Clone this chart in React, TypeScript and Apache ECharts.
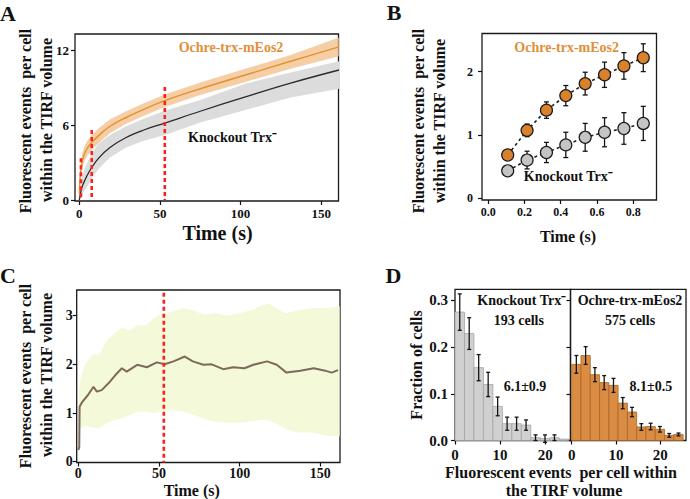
import { useEffect, useRef } from "react";
import * as echarts from "echarts";

const SERIF = '"Liberation Serif", "Times New Roman", serif';
const OCHRE = "#e1922f";
const OCHRE_TEXT = "#df8f3a";

// Panel A: cumulative fluorescent events per cell (mean with confidence band)
const aTime = [0, 0.5, 1, 2, 3.5, 5, 7.7, 12, 19, 29, 40, 53, 75, 103, 131, 161];
const aOchre = [0.5, 1.8, 2.5, 3.2, 3.8, 4.15, 4.6, 5.15, 5.9, 6.6, 7.25, 7.95, 8.9, 10.0, 11.1, 12.25];
const aOchreHigh = [0.8, 2.3, 3.0, 3.8, 4.4, 4.75, 5.2, 5.75, 6.45, 7.1, 7.75, 8.45, 9.4, 10.5, 11.6, 13.0];
const aOchreLow = [0.3, 1.3, 2.0, 2.6, 3.2, 3.55, 4.0, 4.55, 5.35, 6.1, 6.75, 7.45, 8.4, 9.45, 10.5, 11.5];
const aKnock = [0, 0.35, 0.7, 1.15, 1.6, 2.0, 2.6, 3.35, 4.2, 5.0, 5.6, 6.15, 7.1, 8.25, 9.35, 10.4];
const aKnockHigh = [0.1, 0.8, 1.3, 2.0, 2.6, 3.0, 3.75, 4.5, 5.2, 5.9, 6.5, 7.15, 8.0, 9.3, 10.2, 11.1];
const aKnockLow = [0, 0, 0.2, 0.5, 0.8, 1.1, 1.75, 2.5, 3.4, 4.2, 4.75, 5.2, 6.2, 7.2, 8.2, 8.9];
const aMarkTime = [1, 7.7, 53];
const aMarkTop = [3.35, 5.6, 9.05];
const aXTicks = [0, 50, 100, 150];
const aYTicks = [0, 6, 12];

// Panel B: first second of acquisition, mean ± error per frame
const bTime = [0.107, 0.214, 0.321, 0.428, 0.535, 0.642, 0.749, 0.856];
const bOchre = [0.68, 1.07, 1.39, 1.62, 1.81, 1.95, 2.09, 2.22];
const bOchreErr = [0.04, 0.1, 0.13, 0.16, 0.18, 0.2, 0.21, 0.22];
const bKnock = [0.43, 0.6, 0.72, 0.84, 0.96, 1.04, 1.1, 1.18];
const bKnockErr = [0.08, 0.14, 0.16, 0.2, 0.22, 0.23, 0.25, 0.27];
const bXTicks = [0, 0.2, 0.4, 0.6, 0.8];
const bYTicks = [0, 1, 2];

// Panel C: difference between strains over time
const cTime = [0, 0.6, 0.8, 2.5, 6, 9.4, 11.5, 14.5, 18.7, 23, 27, 30, 36.5, 42.5, 48.7, 53.5, 59, 66, 71, 77.5, 82.7, 89.8, 96, 103, 108.5, 117, 123, 129, 137.6, 146, 153, 157, 161];
const cMean = [0.24, 0.3, 1.13, 1.23, 1.37, 1.54, 1.44, 1.47, 1.61, 1.78, 1.92, 1.85, 1.99, 1.94, 2.04, 2.0, 2.06, 2.16, 2.06, 1.99, 2.0, 1.9, 1.94, 1.92, 1.99, 2.06, 1.99, 1.83, 1.87, 1.92, 1.87, 1.83, 1.88];
const cBandTime = [0, 0.5, 2, 5, 9, 13, 18, 23, 27, 32, 37, 42, 47, 50, 55, 60, 65, 70, 78, 85, 92, 100, 108, 114, 118, 123, 128, 135, 145, 155, 162];
const cUpper = [0.3, 1.5, 1.8, 2.05, 2.2, 2.2, 2.5, 2.65, 2.75, 2.7, 2.8, 2.8, 2.95, 3.02, 3.05, 3.1, 3.15, 3.12, 3.02, 3.05, 3.0, 3.05, 3.12, 3.22, 3.25, 3.15, 3.05, 3.1, 3.15, 3.15, 3.2];
const cLower = [0.15, 0.7, 0.71, 0.74, 0.7, 0.68, 0.8, 0.86, 0.9, 0.96, 1.03, 1.03, 1.0, 1.02, 1.05, 1.05, 1.03, 0.98, 0.88, 0.82, 0.8, 0.8, 0.83, 0.86, 0.85, 0.78, 0.68, 0.6, 0.6, 0.53, 0.52];
const cMarkTime = [53];
const cMarkTop = [3.47];
const cXTicks = [0, 50, 100, 150];
const cYTicks = [0, 1, 2, 3];

// Panel D: histograms of events per cell
const histEdges = [0, 2.1, 4.2, 6.3, 8.4, 10.5, 12.6, 14.7, 16.8, 18.9, 21.0, 23.1, 25.2];
const dKnock = [0.275, 0.229, 0.156, 0.12, 0.073, 0.036, 0.036, 0.033, 0.006, 0.004, 0.006, 0.003];
const dKnockErr = [0.039, 0.034, 0.028, 0.026, 0.02, 0.014, 0.014, 0.011, 0.006, 0.008, 0.006, 0];
const dOchre = [0.163, 0.182, 0.141, 0.124, 0.118, 0.08, 0.061, 0.029, 0.03, 0.024, 0.011, 0.013];
const dOchreErr = [0.019, 0.019, 0.015, 0.015, 0.015, 0.012, 0.01, 0.007, 0.007, 0.006, 0.004, 0.003];
const dXTicks = [0, 10, 20];
const dYTicks = [0, 0.1, 0.2, 0.3];

type AxisOpts = {
  ticks: number[];
  labels?: boolean;
  fontSize?: number;
  margin?: number;
  fmt?: (v: number) => string;
};

function axis(gridIndex: number, min: number, max: number, o: AxisOpts) {
  return {
    type: "value",
    gridIndex,
    min,
    max,
    axisLine: { show: false, onZero: false },
    axisTick: {
      show: true,
      customValues: o.ticks,
      length: 4,
      lineStyle: { color: "#111", width: 1.2 },
    },
    axisLabel: {
      show: o.labels !== false,
      customValues: o.ticks,
      formatter: o.fmt ? (v: number) => o.fmt!(v) : (v: number) => String(v),
      fontFamily: SERIF,
      fontWeight: "bold",
      fontSize: o.fontSize ?? 13,
      color: "#111",
      margin: o.margin ?? 6,
    },
    splitLine: { show: false },
  };
}

function band(axisIndex: number, xs: number[], hi: number[], lo: number[], fill: string, z: number) {
  return {
    type: "custom",
    xAxisIndex: axisIndex,
    yAxisIndex: axisIndex,
    z,
    silent: true,
    data: [[xs[0], lo[0]]],
    renderItem: (_p: any, api: any) => {
      const upper = xs.map((x, i) => api.coord([x, hi[i]]));
      const lower = xs.map((x, i) => api.coord([x, lo[i]])).reverse();
      return {
        type: "polygon",
        shape: { points: upper.concat(lower) },
        style: { fill, stroke: "none" },
      };
    },
  };
}

function line(axisIndex: number, xs: number[], ys: number[], color: string, width: number, smooth: boolean | number, z: number, dashed = false) {
  return {
    type: "line",
    xAxisIndex: axisIndex,
    yAxisIndex: axisIndex,
    z,
    data: xs.map((x, i) => [x, ys[i]]),
    showSymbol: false,
    symbol: "none",
    smooth,
    lineStyle: { color, width, type: dashed ? [3, 3] : "solid" },
    silent: true,
  };
}

function redMarks(axisIndex: number, xs: number[], tops: number[], bottom: number) {
  return {
    type: "custom",
    xAxisIndex: axisIndex,
    yAxisIndex: axisIndex,
    z: 8,
    silent: true,
    data: xs.map((x, i) => [x, tops[i]]),
    renderItem: (_p: any, api: any) => {
      const t = api.coord([api.value(0), api.value(1)]);
      const b = api.coord([api.value(0), bottom]);
      return {
        type: "line",
        shape: { x1: t[0], y1: t[1], x2: b[0], y2: b[1] },
        style: { stroke: "#ff1f1f", lineWidth: 2.6, lineDash: [4, 3] },
      };
    },
  };
}

function errorBars(axisIndex: number, xs: number[], ys: number[], errs: number[], cap: number, z: number) {
  return {
    type: "custom",
    xAxisIndex: axisIndex,
    yAxisIndex: axisIndex,
    z,
    silent: true,
    data: xs.map((x, i) => [x, ys[i], errs[i]]),
    renderItem: (_p: any, api: any) => {
      const x = api.value(0);
      const y = api.value(1);
      const e = api.value(2);
      if (!e) return { type: "group", children: [] };
      const top = api.coord([x, y + e]);
      const bot = api.coord([x, y - e]);
      const st = { stroke: "#151515", lineWidth: 1.3 };
      return {
        type: "group",
        children: [
          { type: "line", shape: { x1: top[0], y1: top[1], x2: bot[0], y2: bot[1] }, style: st },
          { type: "line", shape: { x1: top[0] - cap, y1: top[1], x2: top[0] + cap, y2: top[1] }, style: st },
          { type: "line", shape: { x1: bot[0] - cap, y1: bot[1], x2: bot[0] + cap, y2: bot[1] }, style: st },
        ],
      };
    },
  };
}

function histogram(axisIndex: number, vals: number[], fill: string, stroke: string) {
  return {
    type: "custom",
    xAxisIndex: axisIndex,
    yAxisIndex: axisIndex,
    z: 3,
    silent: true,
    data: vals.map((v, i) => [histEdges[i], histEdges[i + 1], v]),
    renderItem: (_p: any, api: any) => {
      const p0 = api.coord([api.value(0), api.value(2)]);
      const p1 = api.coord([api.value(1), 0]);
      return {
        type: "rect",
        shape: { x: p0[0], y: p0[1], width: p1[0] - p0[0], height: p1[1] - p0[1] },
        style: { fill, stroke, lineWidth: 0.8 },
      };
    },
  };
}

function scatter(axisIndex: number, xs: number[], ys: number[], color: string) {
  return {
    type: "scatter",
    xAxisIndex: axisIndex,
    yAxisIndex: axisIndex,
    z: 10,
    silent: true,
    symbol: "circle",
    symbolSize: 12,
    data: xs.map((x, i) => [x, ys[i]]),
    itemStyle: { color, borderColor: "#1a1a1a", borderWidth: 1.2, opacity: 1 },
  };
}

function text(x: number, y: number, s: string, size: number, extra: any = {}) {
  return {
    type: "text",
    x,
    y,
    rotation: extra.rotation ?? 0,
    z: 100,
    silent: true,
    style: {
      text: s,
      fontFamily: SERIF,
      fontWeight: "bold",
      fontSize: size,
      fill: extra.color ?? "#111",
      align: extra.align ?? "center",
      verticalAlign: "middle",
    },
  };
}

const ROT = Math.PI / 2;
const frame = { show: true, borderColor: "#1a1a1a", borderWidth: 1.3, backgroundColor: "transparent", containLabel: false, outerBoundsMode: "none" };
const fixed1 = (v: number) => v.toFixed(1);
const binCenters = histEdges.slice(0, -1).map((e, i) => (e + histEdges[i + 1]) / 2);

export default function App() {
  const ref = useRef<HTMLDivElement>(null);

  useEffect(() => {
    if (!ref.current) return;
    const chart = echarts.init(ref.current, null, { renderer: "svg" });
    chart.setOption({
      animation: false,
      backgroundColor: "#ffffff",
      grid: [
        { ...frame, left: 75, top: 34, width: 263.5, height: 167 },
        { ...frame, left: 482, top: 33.5, width: 174.5, height: 166.5 },
        { ...frame, left: 76.7, top: 290, width: 263.3, height: 172.5 },
        { ...frame, left: 455, top: 289.3, width: 115.5, height: 151.2 },
        { ...frame, left: 570.5, top: 289.3, width: 115.5, height: 151.2 },
      ],
      xAxis: [
        axis(0, -2.67, 160.7, { ticks: aXTicks, fontSize: 13, margin: 6 }),
        axis(1, -0.035, 0.929, { ticks: bXTicks, fontSize: 12, margin: 6, fmt: fixed1 }),
        axis(2, -0.99, 162.2, { ticks: cXTicks, fontSize: 14, margin: 4 }),
        axis(3, 0, 25.6, { ticks: dXTicks, fontSize: 15, margin: 7 }),
        axis(4, -0.27, 25.85, { ticks: dXTicks, fontSize: 15, margin: 7 }),
      ],
      yAxis: [
        axis(0, -0.08, 13.28, { ticks: aYTicks, fontSize: 13, margin: 6 }),
        axis(1, -0.032, 2.603, { ticks: bYTicks, fontSize: 12, margin: 9 }),
        axis(2, -0.016, 3.526, { ticks: cYTicks, fontSize: 14, margin: 4 }),
        axis(3, 0, 0.3238, { ticks: dYTicks, fontSize: 15, margin: 7, fmt: fixed1 }),
        axis(4, 0, 0.3238, { ticks: dYTicks, labels: false }),
      ],
      series: [
        // A
        band(0, aTime, aKnockHigh, aKnockLow, "#dcdcdc", 1),
        band(0, aTime, aOchreHigh, aOchreLow, "rgba(241,190,135,0.75)", 2),
        line(0, aTime, aKnock, "#2a2a2a", 1.3, 0.4, 5),
        line(0, aTime, aOchre, OCHRE, 1.4, 0.4, 6),
        redMarks(0, aMarkTime, aMarkTop, 0),
        // B
        line(1, bTime, bKnock, "#222", 1.6, false, 4, true),
        line(1, bTime, bOchre, "#222", 1.6, false, 4, true),
        errorBars(1, bTime, bKnock, bKnockErr, 2.5, 7),
        errorBars(1, bTime, bOchre, bOchreErr, 2.5, 7),
        scatter(1, bTime, bKnock, "#c4c4c4"),
        scatter(1, bTime, bOchre, "#d9822b"),
        // C
        band(2, cBandTime, cUpper, cLower, "#f4f9da", 1),
        line(2, cTime, cMean, "#7e6a5b", 2, false, 5),
        redMarks(2, cMarkTime, cMarkTop, -0.016),
        // D
        histogram(3, dKnock, "#d0d0d0", "#a3a3a3"),
        histogram(4, dOchre, "#d98c42", "#a8662a"),
        errorBars(3, binCenters, dKnock, dKnockErr, 2, 6),
        errorBars(4, binCenters, dOchre, dOchreErr, 2, 6),
      ],
      graphic: [
        // panel letters
        text(0, 13, "A", 22, { align: "left" }),
        text(394, 12, "B", 22),
        text(0, 275.5, "C", 22, { align: "left" }),
        text(393.5, 275.5, "D", 22),
        // A
        text(25, 121, "Fluorescent events  per cell", 16, { rotation: ROT }),
        text(46, 120, "within the TIRF volume", 16, { rotation: ROT }),
        text(217.5, 233, "Time (s)", 20),
        text(231, 47, "Ochre-trx-mEos2", 14, { color: OCHRE_TEXT }),
        text(232.5, 137.5, "Knockout Trx\u207B", 14),
        // B
        text(418, 121, "Fluorescent events  per cell", 16, { rotation: ROT }),
        text(439, 121, "within the TIRF volume", 16, { rotation: ROT }),
        text(568, 236, "Time (s)", 16),
        text(566.7, 47.5, "Ochre-trx-mEos2", 14, { color: OCHRE_TEXT }),
        text(568.3, 176, "Knockout Trx\u207B", 14),
        // C
        text(25, 376, "Fluorescent events  per cell", 16, { rotation: ROT }),
        text(46.5, 375, "within the TIRF volume", 16, { rotation: ROT }),
        text(191.7, 490.5, "Time (s)", 16),
        // D
        text(416.7, 365, "Fraction of cells", 16, { rotation: ROT }),
        text(561, 472.5, "Fluorescent events  per cell within", 16),
        text(564, 490.5, "the TIRF volume", 16),
        text(521.7, 300, "Knockout Trx\u207B", 14),
        text(518.8, 320, "193 cells", 14),
        text(525, 386, "6.1\u00B10.9", 14),
        text(630, 300, "Ochre-trx-mEos2", 14),
        text(630, 320, "575 cells", 14),
        text(650.8, 386, "8.1\u00B10.5", 14),
      ],
    });
    return () => chart.dispose();
  }, []);

  return (
    <div
      ref={ref}
      style={{ position: "fixed", left: 0, top: 0, width: 690, height: 499, background: "#fff" }}
    />
  );
}
